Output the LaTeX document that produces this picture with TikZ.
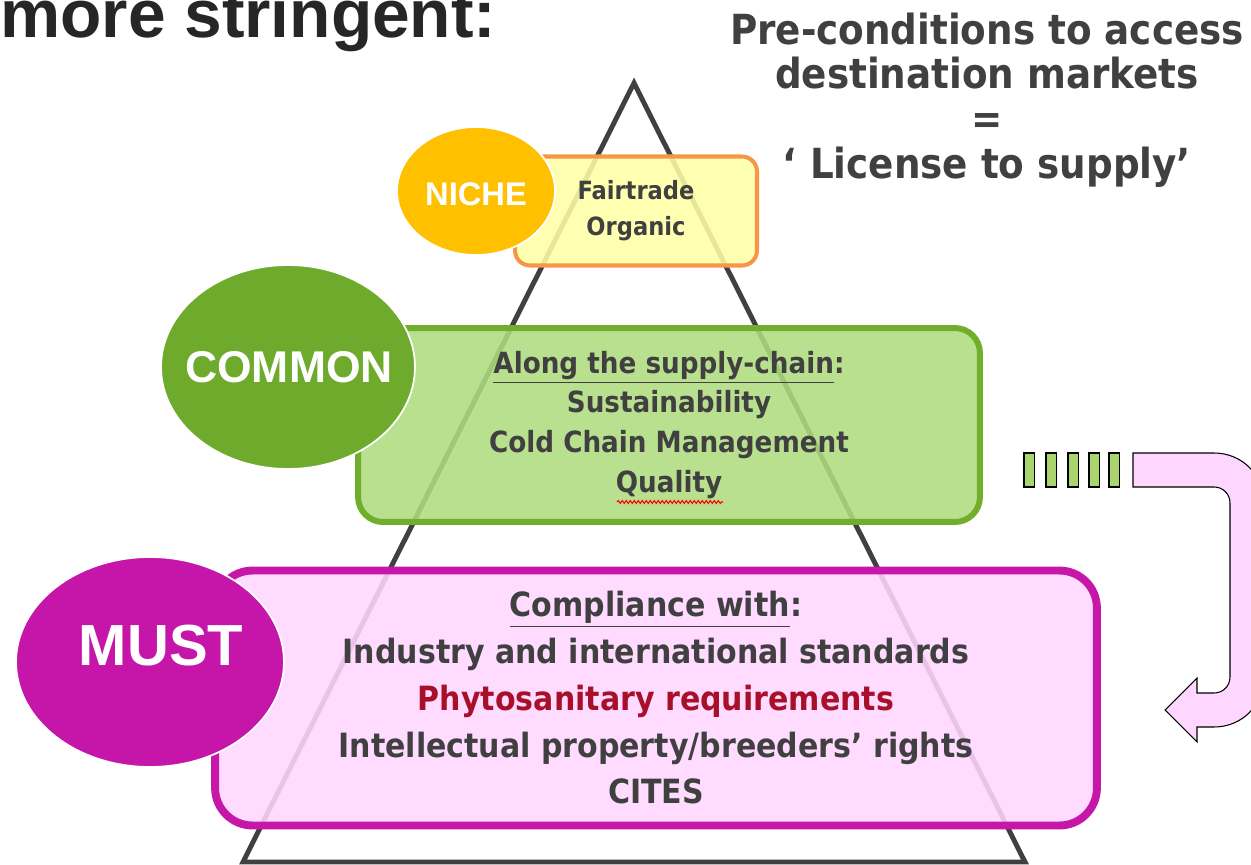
\documentclass[tikz,border=0pt]{standalone}
\usepackage{fontspec}
\newfontfamily\headfont{Liberation Sans}
\newfontfamily\boxfont{DejaVu Sans Condensed}
\usetikzlibrary{shapes}
\usetikzlibrary{positioning}
\usetikzlibrary{decorations.pathmorphing}

\definecolor{ink}{HTML}{404040}
\definecolor{titleink}{HTML}{262626}
\definecolor{nichedisc}{HTML}{FFC000}
\definecolor{nichefill}{HTML}{FFFFA6}
\definecolor{nicheline}{HTML}{F79646}
\definecolor{commondisc}{HTML}{6EAB2D}
\definecolor{commonfill}{HTML}{AEDC7F}
\definecolor{commonline}{HTML}{70AE2C}
\definecolor{mustdisc}{HTML}{C516A9}
\definecolor{mustfill}{HTML}{FFD6FF}
\definecolor{mustline}{HTML}{C617A9}
\definecolor{phyto}{HTML}{A8102A}
\definecolor{barfill}{HTML}{A9D46E}

\begin{document}
\begin{tikzpicture}[x=0.02cm, y=-0.02cm,
  disc/.style={ellipse, draw=white, line width=1pt, inner sep=0pt},
  disclabel/.style={text=white, inner sep=0pt},
  tier/.style={rectangle, align=center, inner sep=0pt, text=ink, fill opacity=0.88, text opacity=1}]
  \useasboundingbox (0,0) rectangle (1251,865);

  \node[anchor=base west, inner sep=0pt, text=titleink, font=\headfont\bfseries\fontsize{38.5}{40}\selectfont] (title) at (0,38) {more stringent:};

  \draw[line width=2.8pt, ink] (243,862) -- (634,83) -- (1025,862) -- cycle;

  \node[tier, fill=nichefill, draw=nicheline, line width=2.3pt, rounded corners=0.3cm, minimum width=4.84cm, minimum height=2.18cm, font=\boxfont\bfseries\fontsize{14.3}{20.4}\selectfont] (nichebox) at (636,211) {Fairtrade\\Organic};
  \node[tier, fill=commonfill, draw=commonline, line width=3.4pt, rounded corners=0.5cm, minimum width=12.44cm, minimum height=3.88cm, font=\boxfont\bfseries\fontsize{16.6}{22.7}\selectfont] (commonbox) at (669,425) {\underline{Along the supply-chain}:\\Sustainability\\Cold Chain Management\\Quality};
  \node[tier, fill=mustfill, draw=mustline, line width=4.5pt, rounded corners=0.75cm, minimum width=17.64cm, minimum height=5.1cm, font=\boxfont\bfseries\fontsize{19}{26.6}\selectfont] (mustbox) at (656,698) {\underline{Compliance with}:\\Industry and international standards\\\textcolor{phyto}{Phytosanitary requirements}\\Intellectual property/breeders’ rights\\CITES};
  \draw[red, line width=0.6pt, decorate, decoration={snake, segment length=0.08cm, amplitude=0.03cm}] (617,502) -- (723,502);

  \node[disc, fill=nichedisc, minimum width=3.16cm, minimum height=2.56cm] (niche) at (476,191) {};
  \node[disclabel, font=\headfont\bfseries\fontsize{18.6}{20}\selectfont] (nichelabel) at (476,194) {NICHE};
  \node[disc, fill=commondisc, minimum width=5.08cm, minimum height=4.08cm] (common) at (288,367) {};
  \node[disclabel, font=\headfont\bfseries\fontsize{25.3}{28}\selectfont] (commonlabel) at (289,367) {COMMON};
  \node[disc, fill=mustdisc, minimum width=5.36cm, minimum height=4.2cm] (must) at (150,662) {};
  \node[disclabel, font=\headfont\bfseries\fontsize{33}{36}\selectfont] (mustlabel) at (161,646) {MUST};

  \node[align=center, text=ink, font=\boxfont\bfseries\fontsize{23.6}{25.5}\selectfont] (license) at (987,100) {Pre-conditions to access\\destination markets\\=\\‘ License to supply’};

  \foreach \x in {1024,1046,1068,1089,1109}
    \draw[fill=barfill, line width=0.6pt] (\x,453) rectangle ++(10.5,34);
  \draw[fill=mustfill, line width=0.6pt] (1133,453) -- (1214,453)
    .. controls (1242,453) and (1264,475) .. (1264,503) -- (1264,677)
    .. controls (1264,705) and (1242,727) .. (1214,727) -- (1197,727)
    -- (1197,742) -- (1165,710) -- (1197,678) -- (1197,693) -- (1214,693)
    .. controls (1223,693) and (1230,686) .. (1230,677) -- (1230,503)
    .. controls (1230,494) and (1223,487) .. (1214,487) -- (1133,487) -- cycle;
\end{tikzpicture}
\end{document}
